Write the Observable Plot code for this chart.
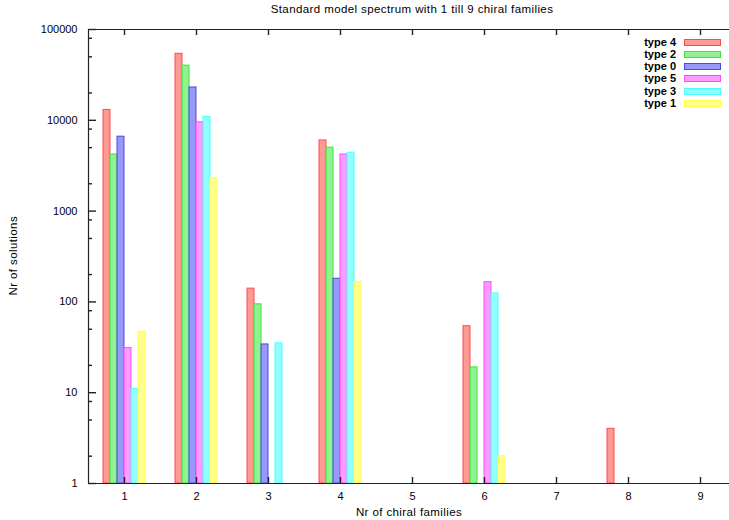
<!DOCTYPE html>
<html><head><meta charset="utf-8">
<script src="https://cdn.jsdelivr.net/npm/d3@7"></script>
<script src="https://cdn.jsdelivr.net/npm/@observablehq/plot@0.6"></script>
<style>
body{margin:0;background:#fff;overflow:hidden}
#wrap{position:relative;width:729px;height:520px;overflow:hidden;font-family:"Liberation Sans",Arial,sans-serif;color:#000;background:#fff}
#wrap svg{position:absolute;left:0;top:0}
.t{position:absolute;white-space:nowrap;line-height:1;letter-spacing:0.4px}
.leg{position:absolute;display:flex;align-items:center}
.leg span{display:inline-block;text-align:right;font-size:11px;font-weight:bold;line-height:1}
.leg i{display:inline-block;box-sizing:border-box;border:1px solid}
</style></head><body><div id="wrap"></div>
<script>
// ---- data ----
const families = [1, 2, 3, 4, 5, 6, 7, 8, 9];
const types = ["type 4", "type 2", "type 0", "type 5", "type 3", "type 1"];
const type4 = [13000, 54000, 140, 6000, 0, 54, 0, 4, 0];
const type2 = [4200, 40000, 94, 5000, 0, 19, 0, 0, 0];
const type0 = [6600, 23000, 34, 180, 0, 0, 0, 0, 0];
const type5 = [31, 9500, 0, 4200, 0, 165, 0, 0, 0];
const type3 = [11, 10900, 35, 4400, 0, 124, 0, 0, 0];
const type1 = [47, 2300, 0, 166, 0, 2, 0, 0, 0];
const yMajorTicks = [1, 10, 100, 1000, 10000, 100000];
const yMinorTicks = [2, 5, 8, 20, 50, 80, 200, 500, 800, 2000, 5000, 8000, 20000, 50000, 80000];
const titleText = "Standard model spectrum with 1 till 9 chiral families";
const xLabelText = "Nr of chiral families";
const yLabelText = "Nr of solutions";

// ---- styles ----
const fillColors = ["#ff9a92", "#92f292", "#9898fa", "#ff9aff", "#92ffff", "#ffff92"];
const strokeColors = ["#ff4a4a", "#3ae63a", "#4a4ae0", "#ff4aff", "#4affff", "#ffff4a"];
const axisColor = "#222";
const W = 736, H = 520, mT = 29, mB = 37, mL = 88, mR = 0;
const plotW = W - mL - mR, plotH = H - mT - mB;

const series = [type4, type2, type0, type5, type3, type1];
const data = [];
types.forEach((t, i) => families.forEach((f, j) => {
  if (series[i][j] > 0) data.push({family: f, type: t, value: series[i][j]});
}));

const common = {
  width: W, height: H,
  marginTop: mT, marginBottom: mB, marginLeft: mL, marginRight: mR,
  style: {maxWidth: "none", fontFamily: "'Liberation Sans', Arial, sans-serif", fontSize: "11px", color: "#000", background: "transparent"}
};

// bars (grouped via facets)
const bars = Plot.plot({
  ...common,
  fx: {domain: families, paddingInner: 0, paddingOuter: 0, axis: null, label: null},
  x: {domain: types, paddingInner: 0, paddingOuter: 2, axis: null, label: null},
  y: {type: "log", domain: [1, 100000], axis: null, label: null},
  color: {domain: types, range: fillColors},
  marks: [
    Plot.barY(data, {fx: "family", x: "type", y1: 1, y2: "value", fill: "type",
      stroke: d => strokeColors[types.indexOf(d.type)], strokeWidth: 1})
  ]
});

// frame and axes
const axes = Plot.plot({
  ...common,
  x: {domain: [0.5, 9.5], label: null},
  y: {type: "log", domain: [1, 100000], label: null},
  marks: [
    Plot.ruleY([1, 100000], {stroke: axisColor, strokeWidth: 1.2}),
    Plot.ruleX([0.5], {stroke: axisColor, strokeWidth: 1.2}),
    Plot.tickY(yMajorTicks, {y: d => d, insetRight: plotW - 8, stroke: axisColor, strokeWidth: 1.4}),
    Plot.tickY(yMinorTicks, {y: d => d, insetRight: plotW - 4, stroke: axisColor, strokeWidth: 1.4}),
    Plot.ruleX(families, {x: d => d, insetTop: plotH - 6, stroke: axisColor, strokeWidth: 1.4}),
    Plot.ruleX(families, {x: d => d, insetBottom: plotH - 6, stroke: axisColor, strokeWidth: 1.4}),
    Plot.axisY({anchor: "left", ticks: yMajorTicks, tickSize: 0, tickPadding: 11,
      tickFormat: d => String(d), fill: "#000", label: null}),
    Plot.axisX({anchor: "bottom", ticks: families, tickSize: 0, tickPadding: 9,
      tickFormat: d => String(d), fill: "#000", label: null})
  ]
});

const wrap = document.getElementById("wrap");
wrap.appendChild(bars);
wrap.appendChild(axes);

function addText(txt, x, baseline, size, opts = {}) {
  const d = document.createElement("div");
  d.className = "t";
  d.textContent = txt;
  d.style.fontSize = size + "px";
  d.style.left = x + "px";
  d.style.top = (baseline - 0.845 * size) + "px";
  d.style.transform = opts.rotate ? "translate(-50%,0) rotate(-90deg)" : "translate(-50%,0)";
  if (opts.rotate) d.style.transformOrigin = "50% " + (0.845 * size) + "px";
  wrap.appendChild(d);
}
addText(titleText, 412, 14, 11.5);
addText(xLabelText, 409, 517, 11.5);
addText(yLabelText, 18, 256, 11.5, {rotate: true});

// legend
types.forEach((t, i) => {
  const row = document.createElement("div");
  row.className = "leg";
  row.style.left = "620px";
  row.style.top = (36 + i * 12.3) + "px";
  row.style.height = "12px";
  const s = document.createElement("span");
  s.textContent = t;
  s.style.width = "56px";
  const sw = document.createElement("i");
  sw.style.width = "37px";
  sw.style.height = "7px";
  sw.style.marginLeft = "8px";
  sw.style.background = fillColors[i];
  sw.style.borderColor = strokeColors[i];
  row.appendChild(s);
  row.appendChild(sw);
  wrap.appendChild(row);
});
</script></body></html>
